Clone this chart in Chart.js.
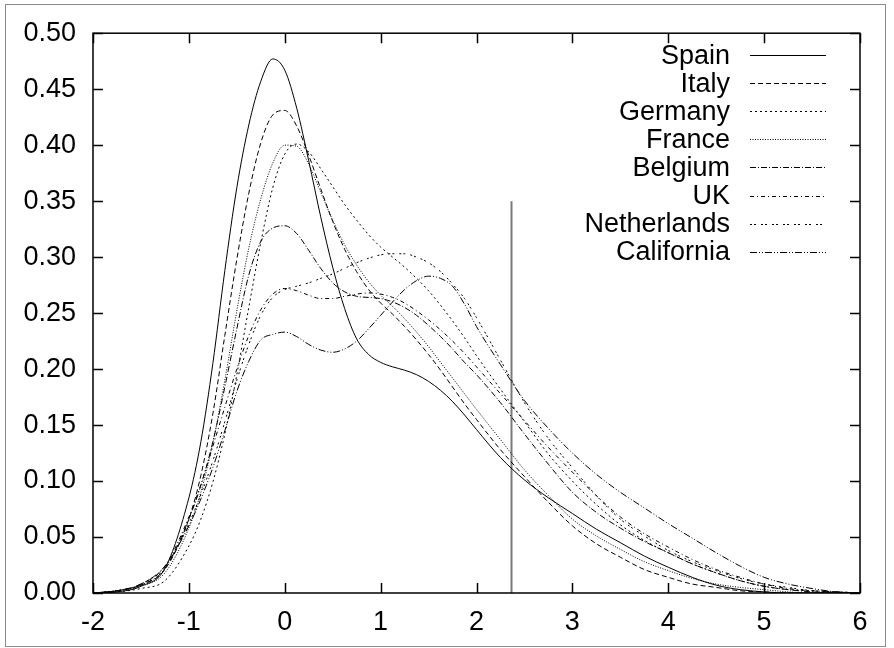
<!DOCTYPE html>
<html>
<head>
<meta charset="utf-8">
<script src="https://cdn.jsdelivr.net/npm/chart.js@4/dist/chart.umd.min.js"></script>
<style>
html,body{margin:0;padding:0;background:#fff;}
canvas{display:block;}
</style>
</head>
<body>
<canvas id="c" width="894" height="648"></canvas>
<script>
// ---- data ----
const xs = [-2, -1.75, -1.5, -1.25, -1, -0.875, -0.75, -0.625, -0.5, -0.375, -0.25, -0.125, 0, 0.125, 0.25, 0.375, 0.5, 0.625, 0.75, 0.875, 1, 1.125, 1.25, 1.375, 1.5, 1.625, 1.75, 1.875, 2, 2.25, 2.5, 2.75, 3, 3.25, 3.5, 3.75, 4, 4.25, 4.5, 4.75, 5, 5.25, 5.5, 5.75, 6];

const spain = [0.000, 0.001, 0.006, 0.022, 0.085, 0.135, 0.205, 0.288, 0.362, 0.418, 0.457, 0.477, 0.467, 0.433, 0.386, 0.336, 0.291, 0.254, 0.227, 0.213, 0.206, 0.202, 0.199, 0.195, 0.189, 0.181, 0.171, 0.159, 0.146, 0.121, 0.101, 0.085, 0.071, 0.057, 0.045, 0.033, 0.023, 0.014, 0.007, 0.003, 0.001, 0.000, 0.000, 0.000, 0.000];
const italy = [0.000, 0.002, 0.007, 0.021, 0.066, 0.105, 0.160, 0.230, 0.298, 0.357, 0.402, 0.427, 0.431, 0.417, 0.391, 0.361, 0.332, 0.307, 0.287, 0.271, 0.259, 0.249, 0.238, 0.226, 0.213, 0.199, 0.184, 0.169, 0.155, 0.128, 0.104, 0.081, 0.060, 0.044, 0.032, 0.021, 0.014, 0.008, 0.005, 0.002, 0.001, 0.000, 0.000, 0.000, 0.000];
const germany = [0.000, 0.001, 0.004, 0.011, 0.042, 0.066, 0.099, 0.142, 0.195, 0.255, 0.313, 0.362, 0.392, 0.401, 0.394, 0.379, 0.363, 0.347, 0.333, 0.320, 0.309, 0.300, 0.291, 0.281, 0.270, 0.257, 0.243, 0.228, 0.212, 0.182, 0.153, 0.124, 0.100, 0.079, 0.061, 0.047, 0.036, 0.026, 0.018, 0.011, 0.006, 0.003, 0.002, 0.001, 0.000];
const france = [0.000, 0.002, 0.006, 0.018, 0.058, 0.090, 0.134, 0.190, 0.252, 0.308, 0.352, 0.384, 0.400, 0.399, 0.383, 0.358, 0.333, 0.311, 0.293, 0.278, 0.266, 0.256, 0.245, 0.233, 0.220, 0.206, 0.192, 0.178, 0.164, 0.137, 0.110, 0.087, 0.066, 0.051, 0.039, 0.028, 0.020, 0.013, 0.008, 0.005, 0.003, 0.001, 0.000, 0.000, 0.000];
const belgium = [0.000, 0.002, 0.007, 0.022, 0.066, 0.096, 0.135, 0.184, 0.236, 0.284, 0.314, 0.326, 0.328, 0.321, 0.306, 0.290, 0.277, 0.269, 0.265, 0.264, 0.263, 0.260, 0.255, 0.248, 0.239, 0.229, 0.218, 0.206, 0.195, 0.170, 0.142, 0.115, 0.090, 0.072, 0.058, 0.046, 0.036, 0.026, 0.018, 0.011, 0.006, 0.003, 0.001, 0.000, 0.000];
const uk = [0.000, 0.002, 0.008, 0.024, 0.068, 0.097, 0.131, 0.166, 0.200, 0.230, 0.253, 0.267, 0.272, 0.270, 0.266, 0.263, 0.263, 0.265, 0.267, 0.268, 0.267, 0.264, 0.259, 0.252, 0.244, 0.235, 0.225, 0.214, 0.202, 0.178, 0.154, 0.130, 0.108, 0.087, 0.068, 0.053, 0.041, 0.030, 0.021, 0.014, 0.008, 0.004, 0.002, 0.001, 0.000];
const netherlands = [0.000, 0.002, 0.008, 0.023, 0.062, 0.088, 0.118, 0.153, 0.190, 0.222, 0.248, 0.264, 0.271, 0.274, 0.277, 0.281, 0.285, 0.290, 0.295, 0.299, 0.302, 0.303, 0.303, 0.300, 0.295, 0.287, 0.276, 0.263, 0.246, 0.208, 0.170, 0.138, 0.112, 0.087, 0.066, 0.051, 0.038, 0.028, 0.020, 0.013, 0.008, 0.005, 0.002, 0.001, 0.000];
const california = [0.000, 0.002, 0.008, 0.024, 0.060, 0.084, 0.112, 0.145, 0.180, 0.207, 0.226, 0.231, 0.233, 0.229, 0.222, 0.217, 0.215, 0.218, 0.225, 0.236, 0.248, 0.260, 0.271, 0.279, 0.283, 0.281, 0.274, 0.258, 0.238, 0.204, 0.172, 0.147, 0.125, 0.106, 0.090, 0.076, 0.062, 0.049, 0.036, 0.024, 0.014, 0.008, 0.004, 0.001, 0.000];

const seriesNames = ["Spain", "Italy", "Germany", "France", "Belgium", "UK", "Netherlands", "California"];
const seriesValues = [spain, italy, germany, france, belgium, uk, netherlands, california];

// vertical reference line
const markerX = 2.365;
const markerYs = [0, 0.35];

// axis ticks
const xTicks = [-2, -1, 0, 1, 2, 3, 4, 5, 6];
const yTicks = [0, 0.05, 0.10, 0.15, 0.20, 0.25, 0.30, 0.35, 0.40, 0.45, 0.50];

// ---- styles ----
const dashes = [[], [5, 3], [2, 3], [1, 1.5], [6, 2, 1, 2], [4, 3, 1, 3], [2, 2, 2, 5], [7, 2, 1, 2, 1, 2]];
const FONT = {family: '"Liberation Sans", Arial, Helvetica, sans-serif', size: 27};
const TICK_LEN = 10;

const datasets = seriesValues.map((vals, i) => ({
  label: seriesNames[i],
  data: xs.map((x, k) => ({x: x, y: vals[k]})),
  borderColor: '#000',
  borderWidth: 1,
  borderDash: dashes[i],
  pointRadius: 0,
  fill: false,
  cubicInterpolationMode: 'monotone'
}));
datasets.push({
  label: 'marker',
  data: markerYs.map(y => ({x: markerX, y: y})),
  borderColor: '#7a7a7a',
  borderWidth: 2,
  pointRadius: 0,
  fill: false,
  tension: 0
});

const framePlugin = {
  id: 'frame',
  afterDatasetsDraw(chart) {
    const ctx = chart.ctx;
    const a = chart.chartArea;
    const sx = chart.scales.x, sy = chart.scales.y;
    ctx.save();
    ctx.setLineDash([]);
    ctx.globalAlpha = 1;
    ctx.globalCompositeOperation = 'source-over';
    // outer border
    ctx.strokeStyle = '#8c8c8c';
    ctx.lineWidth = 1;
    ctx.strokeRect(5.5, 4.5, 880, 642);
    // plot frame
    ctx.strokeStyle = '#000000';
    ctx.lineWidth = 1.5;
    ctx.strokeRect(a.left, a.top, a.right - a.left, a.bottom - a.top);
    // inward ticks on all four sides
    ctx.lineWidth = 1.5;
    ctx.beginPath();
    for (const v of xTicks) {
      const p = Math.round(sx.getPixelForValue(v)) + 0.5;
      ctx.moveTo(p, a.bottom);
      ctx.lineTo(p, a.bottom - TICK_LEN);
      ctx.moveTo(p, a.top);
      ctx.lineTo(p, a.top + TICK_LEN);
    }
    for (const v of yTicks) {
      const p = Math.round(sy.getPixelForValue(v)) + 0.5;
      ctx.moveTo(a.left, p);
      ctx.lineTo(a.left + TICK_LEN, p);
      ctx.moveTo(a.right, p);
      ctx.lineTo(a.right - TICK_LEN, p);
    }
    ctx.stroke();
    // legend
    ctx.fillStyle = '#000000';
    ctx.font = FONT.size + 'px ' + FONT.family;
    ctx.textAlign = 'right';
    ctx.textBaseline = 'alphabetic';
    ctx.lineWidth = 1;
    seriesNames.forEach((name, i) => {
      const yl = 55 + i * 28.1;
      ctx.fillText(name, 730, yl + 8.5);
      ctx.setLineDash(dashes[i]);
      ctx.beginPath();
      ctx.moveTo(750, Math.round(yl) + 0.5);
      ctx.lineTo(826, Math.round(yl) + 0.5);
      ctx.stroke();
    });
    ctx.setLineDash([]);
    ctx.restore();
  }
};

new Chart(document.getElementById('c'), {
  type: 'line',
  data: {datasets: datasets},
  options: {
    responsive: false,
    animation: false,
    events: [],
    layout: {padding: {left: 0, top: 33, right: 34, bottom: 0}},
    scales: {
      x: {
        type: 'linear', min: -2, max: 6,
        afterBuildTicks: s => { s.ticks = xTicks.map(v => ({value: v})); },
        ticks: {color: '#000', font: FONT, padding: 13, maxRotation: 0, autoSkip: false, callback: v => String(v)},
        grid: {display: false, drawTicks: false},
        border: {display: false},
        afterFit: s => { s.height = 55; }
      },
      y: {
        type: 'linear', min: 0, max: 0.5,
        afterBuildTicks: s => { s.ticks = yTicks.map(v => ({value: v})); },
        ticks: {color: '#000', font: FONT, padding: 17, autoSkip: false, callback: v => Number(v).toFixed(2)},
        grid: {display: false, drawTicks: false},
        border: {display: false},
        afterFit: s => { s.width = 93; }
      }
    },
    plugins: {legend: {display: false}, tooltip: {enabled: false}}
  },
  plugins: [framePlugin]
});
</script>
</body>
</html>
